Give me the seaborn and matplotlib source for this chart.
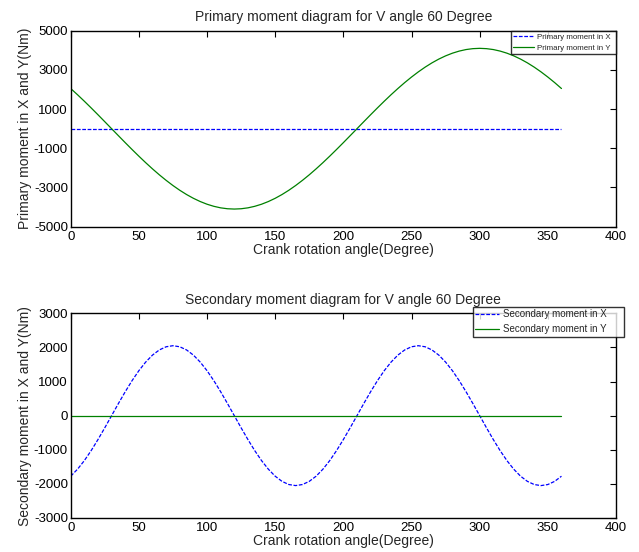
import numpy as np
import pandas as pd
import matplotlib
matplotlib.use("Agg")
import matplotlib.pyplot as plt
import seaborn as sns

# Crank angle (degrees)
angle = list(range(0, 365, 5))

# Primary moments (Nm)
primary_x = [0] * len(angle)
primary_y = [2050, 1733, 1402, 1061, 712, 357, 0, -357, -712, -1061, -1402, -1733,
             -2050, -2352, -2635, -2899, -3141, -3359, -3551, -3716, -3853, -3960, -4038, -4084,
             -4100, -4084, -4038, -3960, -3853, -3716, -3551, -3359, -3141, -2899, -2635, -2352,
             -2050, -1733, -1402, -1061, -712, -357, 0, 357, 712, 1061, 1402, 1733,
             2050, 2352, 2635, 2899, 3141, 3359, 3551, 3716, 3853, 3960, 4038, 4084,
             4100, 4084, 4038, 3960, 3853, 3716, 3551, 3359, 3141, 2899, 2635, 2352, 2050]

# Secondary moments (Nm)
secondary_x = [-1775, -1570, -1318, -1025, -701, -356, 0, 356, 701, 1025, 1318, 1570,
               1775, 1926, 2019, 2050, 2019, 1926, 1775, 1570, 1318, 1025, 701, 356,
               0, -356, -701, -1025, -1318, -1570, -1775, -1926, -2019, -2050, -2019, -1926,
               -1775, -1570, -1318, -1025, -701, -356, 0, 356, 701, 1025, 1318, 1570,
               1775, 1926, 2019, 2050, 2019, 1926, 1775, 1570, 1318, 1025, 701, 356,
               0, -356, -701, -1025, -1318, -1570, -1775, -1926, -2019, -2050, -2019, -1926, -1775]
secondary_y = [0] * len(angle)

top_title = "Primary moment diagram for V angle 60 Degree"
bot_title = "Secondary moment diagram for V angle 60 Degree"
xlabel = "Crank rotation angle(Degree)"
top_ylabel = "Primary moment in X and Y(Nm)"
bot_ylabel = "Secondary moment in X and Y(Nm)"
top_labels = ["Primary moment in X", "Primary moment in Y"]
bot_labels = ["Secondary moment in X", "Secondary moment in Y"]
x_ticks = [0, 50, 100, 150, 200, 250, 300, 350, 400]
top_yticks = [-5000, -3000, -1000, 1000, 3000, 5000]
bot_yticks = [-3000, -2000, -1000, 0, 1000, 2000, 3000]

sns.set_theme(style="white")
plt.rcParams['font.family'] = ['Liberation Sans', 'DejaVu Sans']
plt.rcParams['xtick.direction'] = 'in'
plt.rcParams['ytick.direction'] = 'in'
plt.rcParams['axes.unicode_minus'] = False

fig = plt.figure(figsize=(6.39, 5.52), dpi=100)
W, H = 639, 552
ax1 = fig.add_axes([70.7 / W, 1 - 226.7 / H, (616 - 70.7) / W, (226.7 - 30.7) / H])
ax2 = fig.add_axes([70.7 / W, 1 - 518 / H, (616 - 70.7) / W, (518 - 313.3) / H])

blue = (0, 0, 1)
green = (0, 0.5, 0)

def draw(ax, xs, ys, labels, yticks, ylim, title, ylabel, legfs, legbbox, hlen, lspace):
    sns.lineplot(x=angle, y=xs, ax=ax, color=blue, linewidth=0.9, label=labels[0])
    sns.lineplot(x=angle, y=ys, ax=ax, color=green, linewidth=0.9, label=labels[1])
    ax.lines[0].set_linestyle((0, (3, 1.3)))
    ax.lines[0].set_color(blue)
    ax.lines[1].set_color(green)
    ax.set_xlim(0, 400)
    ax.set_ylim(*ylim)
    ax.set_xticks(x_ticks)
    ax.set_yticks(yticks)
    ax.tick_params(axis='both', labelsize=9.5, length=4, width=0.8, colors='black',
                   top=True, right=True, pad=2)
    ax.tick_params(axis='x', pad=3)
    for s in ax.spines.values():
        s.set_visible(True)
        s.set_color('black')
        s.set_linewidth(1.0)
    ax.set_title(title, fontsize=10, pad=7)
    ax.set_xlabel(xlabel, fontsize=10, labelpad=0)
    ax.set_ylabel(ylabel, fontsize=10, labelpad=1)
    leg = ax.legend(loc='upper left', bbox_to_anchor=legbbox, mode='expand',
                    frameon=True, fancybox=False, borderpad=0.25, handlelength=hlen,
                    labelspacing=lspace, handletextpad=0.4, borderaxespad=0,
                    prop={'size': legfs})
    leg.get_frame().set_edgecolor('black')
    leg.get_frame().set_linewidth(1.0)

# legend boxes in axes coordinates (x0, y0, width, top)
draw(ax1, primary_x, primary_y, top_labels, top_yticks, (-5000, 5000), top_title,
     top_ylabel, 5.7, (0.8074, 0.0, 0.1926, 0.9985), 2.6, 0.45)
draw(ax2, secondary_x, secondary_y, bot_labels, bot_yticks, (-3000, 3000), bot_title,
     bot_ylabel, 7, (0.7378, 0.0, 0.2769, 1.0323), 2.4, 0.55)

fig.savefig("out.png", dpi=100)
